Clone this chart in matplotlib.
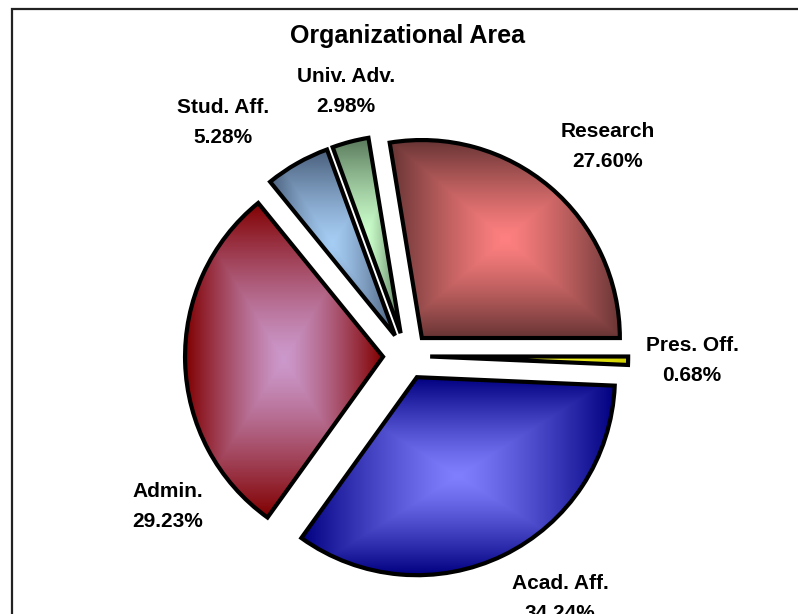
import numpy as np
import matplotlib
matplotlib.use("Agg")
import matplotlib.pyplot as plt
from matplotlib.colors import LinearSegmentedColormap
from matplotlib.patches import Rectangle

# ---- data ----
categories = ["Research", "Univ. Adv.", "Stud. Aff.", "Admin.", "Acad. Aff.", "Pres. Off."]
values = [27.60, 2.98, 5.28, 29.23, 34.24, 0.68]
pct_labels = ["27.60%", "2.98%", "5.28%", "29.23%", "34.24%", "0.68%"]
title = "Organizational Area"

# ---- style ----
center_colors = ["#ff8080", "#ccffcc", "#a6cdf4", "#cc99cc", "#8080ff", "#ffff30"]
edge_colors = ["#683434", "#58785a", "#4a5f7c", "#800000", "#000080", "#d0d000"]
# label anchor (pixel x, pixel baseline of first line)
label_px = [(608, 136.7), (346, 81.7), (223, 113.3), (168, 497.3), (560, 589.0), (692, 350.7)]
line_gap = 30.0

W, H = 798, 614
fig = plt.figure(figsize=(W / 100, H / 100), dpi=100)
R = 198.0
cx, cy_top = 406.6, 356.0
cy = H - cy_top

ax = fig.add_axes([0, 0, 1, 1])
wedges, _ = ax.pie(values, startangle=0, counterclock=True, explode=[0.119] * len(values),
                   radius=1.0, colors=center_colors,
                   wedgeprops=dict(edgecolor="black", linewidth=3.0, joinstyle="miter"))

N = 400
g = np.linspace(-1, 1, N)
X, Y = np.meshgrid(g, g)
D = np.maximum(np.abs(X), np.abs(Y)) ** 1.25
for w, c0, c1 in zip(wedges, center_colors, edge_colors):
    ext = w.get_path().get_extents()
    cmap = LinearSegmentedColormap.from_list("g", [c0, c1])
    im = ax.imshow(D, extent=(ext.x0, ext.x1, ext.y0, ext.y1), origin="lower", cmap=cmap,
                   vmin=0, vmax=1, interpolation="bilinear", aspect="auto", zorder=1)
    im.set_clip_path(w)
    w.set_facecolor("none")
    w.set_zorder(2)

ax.set_aspect("auto")
ax.set_xlim(-cx / R, (W - cx) / R)
ax.set_ylim(-cy / R, (H - cy) / R)
ax.axis("off")

font = dict(family=["Liberation Sans", "DejaVu Sans"], fontweight="bold", color="black")
for name, pct, (px, pb) in zip(categories, pct_labels, label_px):
    x = (px - cx) / R
    ax.text(x, (cy_top - pb) / R, name, ha="center", va="baseline", fontsize=15, **font)
    ax.text(x, (cy_top - pb - line_gap) / R, pct, ha="center", va="baseline", fontsize=15,
            clip_on=False, **font)

fig.text(408 / W, (H - 42.5) / H, title, ha="center", va="baseline", fontsize=18, **font)

frame = Rectangle((12 / W, -0.1), 1.2, (H - 9) / H + 0.1, transform=fig.transFigure,
                  fill=False, edgecolor="#222222", linewidth=1.6, clip_on=False)
fig.patches.append(frame)

fig.savefig("out.png", dpi=100)
